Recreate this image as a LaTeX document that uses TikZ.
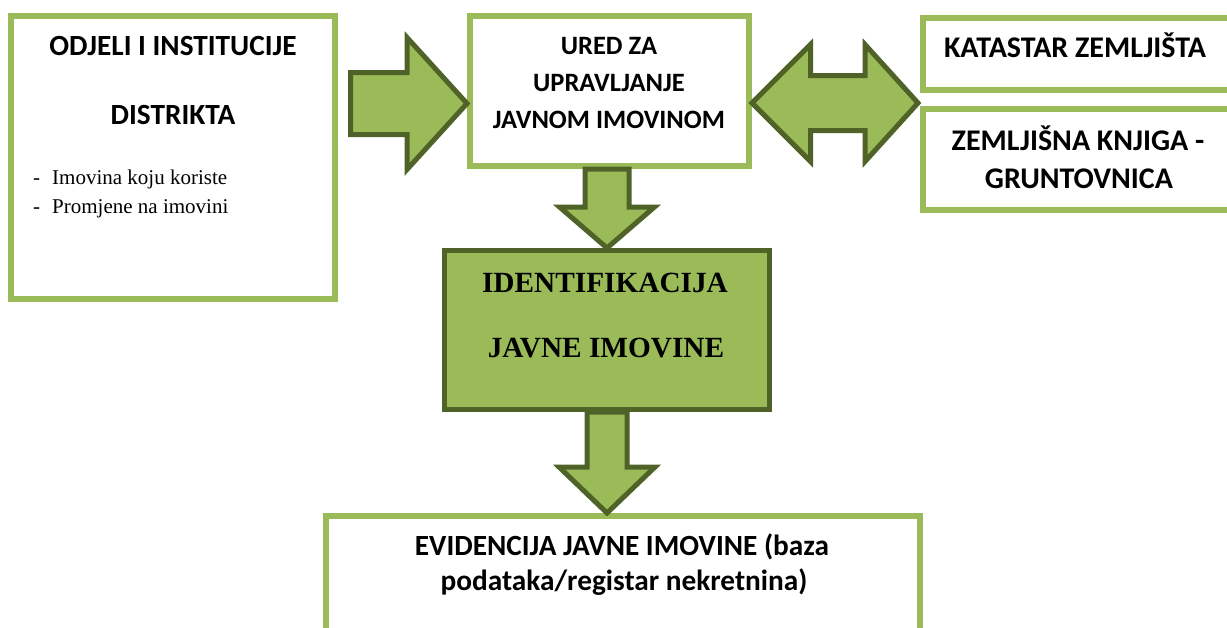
\documentclass[tikz,border=0pt]{standalone}
\usepackage{fontspec}
\setmainfont{Liberation Serif}
\newfontfamily\carlito{Carlito}
\usetikzlibrary{calc}

\definecolor{lgreen}{RGB}{155,187,89}
\definecolor{dgreen}{RGB}{79,98,40}

\tikzset{
  lbox/.style={draw=lgreen, line width=6pt, fill=white, inner sep=0pt},
  dbox/.style={draw=dgreen, line width=5pt, fill=lgreen, inner sep=0pt},
  blockarrow/.style={draw=dgreen, fill=lgreen, line width=5pt},
  boxtitle/.style={font=\carlito\bfseries\fontsize{26.5}{30}\selectfont, anchor=base, inner sep=0pt},
  bigtitle/.style={boxtitle, font=\carlito\bfseries\fontsize{29.3}{34}\selectfont},
  sidetitle/.style={boxtitle, font=\carlito\bfseries\fontsize{30}{34}\selectfont},
  itemtext/.style={font=\fontsize{21}{25}\selectfont, anchor=base west, inner sep=0pt},
  seriftitle/.style={font=\bfseries\fontsize{29.3}{35}\selectfont, anchor=base, inner sep=0pt}
}

\begin{document}
\begin{tikzpicture}[x=1pt, y=-1pt]
\useasboundingbox (0,0) rectangle (1227,627);
\clip (0,0) rectangle (1227,627);

% boxes
\node[lbox, minimum width=324pt, minimum height=283pt] (odjeli) at (173,157.5) {};
\node[lbox, minimum width=279pt, minimum height=150pt] (ured) at (609.5,91) {};
\node[lbox, minimum width=317pt, minimum height=72pt] (katastar) at (1081.5,54) {};
\node[lbox, minimum width=317pt, minimum height=101pt] (zemljisna) at (1081.5,159.5) {};
\node[dbox, minimum width=325pt, minimum height=159pt] (ident) at (607,330) {};
\node[lbox, minimum width=594pt, minimum height=144pt] (evid) at (623,588) {};

% texts
\node[bigtitle] (odjeli1) at (173,55) {ODJELI I INSTITUCIJE};
\node[bigtitle] (odjeli2) at (173,124) {DISTRIKTA};
\node[itemtext] (odjeli3) at (33,184) {\makebox[19pt][l]{-}Imovina koju koriste};
\node[itemtext] (odjeli4) at (33,213) {\makebox[19pt][l]{-}Promjene na imovini};
\node[boxtitle] (ured1) at (609,54) {URED ZA};
\node[boxtitle] (ured2) at (609,91) {UPRAVLJANJE};
\node[boxtitle] (ured3) at (609,128) {JAVNOM IMOVINOM};
\node[sidetitle] (katastar1) at (1075,57) {KATASTAR ZEMLJIŠTA};
\node[sidetitle] (zemljisna1) at (1078,150) {ZEMLJIŠNA KNJIGA -};
\node[sidetitle] (zemljisna2) at (1079,188) {GRUNTOVNICA};
\node[seriftitle] (ident1) at (605,292) {IDENTIFIKACIJA};
\node[seriftitle] (ident2) at (606,357) {JAVNE IMOVINE};
\node[bigtitle] (evid1) at (622,555) {EVIDENCIJA JAVNE IMOVINE (baza};
\node[bigtitle] (evid2) at (624,590) {podataka/registar nekretnina)};

% arrows
\coordinate (a1s) at ([xshift=12.5pt]odjeli.east |- 0,103.5);
\coordinate (a1e) at (ured.west |- 0,103.5);
\draw[blockarrow] ($(a1s)+(0,-31)$) -- ($(a1e)+(-60,-31)$) -- ($(a1e)+(-60,-66)$) -- (a1e)
  -- ($(a1e)+(-60,66)$) -- ($(a1e)+(-60,31)$) -- ($(a1s)+(0,31)$) -- cycle;

\coordinate (d1s) at (ident.north |- ured.south);
\coordinate (d1e) at (ident.north);
\draw[blockarrow] ($(d1s)+(-22,0)$) -- ($(d1e)+(-22,-41)$) -- ($(d1e)+(-47.5,-41)$) -- (d1e)
  -- ($(d1e)+(47.5,-41)$) -- ($(d1e)+(22,-41)$) -- ($(d1s)+(22,0)$) -- cycle;

\coordinate (d2s) at (ident.south);
\coordinate (d2e) at (ident.south |- evid.north);
\draw[blockarrow] ($(d2s)+(-20,0)$) -- ($(d2e)+(-20,-46)$) -- ($(d2e)+(-48,-46)$) -- (d2e)
  -- ($(d2e)+(48,-46)$) -- ($(d2e)+(20,-46)$) -- ($(d2s)+(20,0)$) -- cycle;

\coordinate (ls) at (ured.east |- 0,103);
\coordinate (rs) at ([xshift=-2pt]katastar.west |- 0,103);
\draw[blockarrow] (ls) -- ($(ls)+(58.5,-58.5)$) -- ($(ls)+(58.5,-27.5)$) -- ($(rs)+(-53,-27.5)$)
  -- ($(rs)+(-53,-58.5)$) -- (rs) -- ($(rs)+(-53,58.5)$) -- ($(rs)+(-53,27.5)$)
  -- ($(ls)+(58.5,27.5)$) -- ($(ls)+(58.5,58.5)$) -- cycle;
\end{tikzpicture}
\end{document}
